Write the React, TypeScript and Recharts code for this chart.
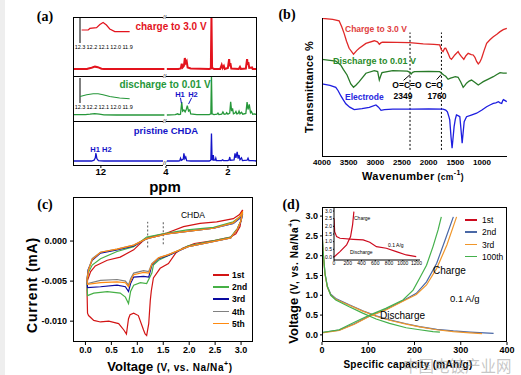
import React from 'react';
import { LineChart, Line, XAxis, YAxis, ReferenceLine } from 'recharts';

const SANS = '"Liberation Sans", Arial, Helvetica, sans-serif';
const SERIF = '"Liberation Serif", "Times New Roman", serif';
const CJK = '"Noto Sans CJK SC", sans-serif';

type Pt = [number, number];

// ---- (a) 1H NMR, [ppm, intensity] ----
const A_TICKS = [12, 4, 2];
const A_INSET_TICKS = [12.3, 12.2, 12.1, 12.0, 11.9];

const RED_LEFT: Pt[] = [[12.9, 0], [12.45, 0], [12.4, 0.01], [12.3, 0.025], [12.19, 0.045], [12.1, 0.035], [11.98, 0.005], [11.9, 0], [9.95, 0]];
const RED_RIGHT: Pt[] = [
  [3.97, 0], [3.6, 0], [3.52, 0.01], [3.49, 0.1], [3.46, 0.03], [3.42, 0.06], [3.39, 0.21], [3.36, 0.12], [3.33, 0.15], [3.3, 0.03],
  [3.2, 0.01], [2.6, 0], [2.55, 0.01], [2.53, 1], [2.51, 0.02], [2.45, 0], [2.25, 0], [2.2, 0.08], [2.17, 0.02], [2.13, 0.06],
  [2.1, 0], [2.0, 0.02], [1.96, 0.19], [1.94, 0.05], [1.92, 0.11], [1.89, 0.01], [1.65, 0], [1.61, 0.04], [1.58, 0], [1.42, 0.01],
  [1.38, 0.19], [1.36, 0.08], [1.34, 0.13], [1.31, 0.02], [1.22, 0.03], [1.2, 0], [1.06, 0],
];
const GREEN_LEFT: Pt[] = [[12.9, 0.01], [12.5, 0.01], [12.35, 0.02], [12.2, 0.035], [12.05, 0.02], [11.9, 0.005], [11.5, 0], [9.95, 0]];
const GREEN_RIGHT: Pt[] = [
  [3.97, 0], [3.7, 0.01], [3.62, 0.03], [3.58, 0.01], [3.53, 0.02], [3.49, 0.33], [3.46, 0.1], [3.42, 0.13], [3.38, 0.08], [3.34, 0.15],
  [3.31, 0.24], [3.27, 0.1], [3.23, 0.13], [3.2, 0.03], [3.0, 0.01], [2.6, 0.01], [2.55, 0.03], [2.53, 1], [2.51, 0.03], [2.45, 0.01],
  [2.35, 0.02], [2.32, 0.05], [2.29, 0.01], [2.2, 0.02], [2.16, 0.08], [2.12, 0.02], [2.06, 0.03], [2.04, 0.06], [2.0, 0.02], [1.94, 0.05],
  [1.91, 0.34], [1.88, 0.1], [1.85, 0.17], [1.82, 0.03], [1.77, 0.05], [1.74, 0.09], [1.71, 0.03], [1.67, 0.04], [1.64, 0.1], [1.61, 0.03],
  [1.56, 0.07], [1.52, 0.02], [1.42, 0.04], [1.38, 0.33], [1.35, 0.14], [1.31, 0.27], [1.27, 0.06], [1.24, 0.09], [1.2, 0.02], [1.13, 0.03], [1.06, 0],
];
const BLUE_LEFT: Pt[] = [[12.9, 0], [12.3, 0], [12.22, 0.02], [12.18, 0.08], [12.16, 0.2], [12.13, 0.06], [12.08, 0.01], [11.9, 0], [9.95, 0]];
const BLUE_RIGHT: Pt[] = [
  [3.97, 0], [3.6, 0], [3.55, 0.01], [3.53, 0.07], [3.5, 0.02], [3.44, 0.05], [3.42, 0.19], [3.39, 0.06], [3.36, 0.1], [3.33, 0.01],
  [3.2, 0], [2.6, 0], [2.55, 0.02], [2.53, 0.69], [2.51, 0.04], [2.49, 0.03], [2.47, 0.15], [2.45, 0.02], [2.41, 0.02], [2.39, 0.07],
  [2.37, 0.01], [2.2, 0.01], [2.17, 0.03], [2.14, 0.01], [2.0, 0.01], [1.96, 0.03], [1.94, 0.1], [1.92, 0.02], [1.8, 0.03], [1.77, 0.19],
  [1.74, 0.08], [1.7, 0.23], [1.67, 0.06], [1.64, 0.15], [1.61, 0.03], [1.56, 0.08], [1.53, 0.01], [1.38, 0.02], [1.35, 0.07], [1.32, 0.01],
  [1.2, 0.01], [1.06, 0],
];
const RED_INSET: Pt[] = [[12.286, 0.5], [12.231, 0.5], [12.217, 0.56], [12.161, 0.59], [12.133, 0.71], [12.106, 0.79], [12.078, 0.69], [12.05, 0.54], [12.008, 0.44], [11.883, 0.44]];
const GREEN_INSET: Pt[] = [[12.3, 0.26], [12.244, 0.33], [12.189, 0.37], [12.148, 0.37], [12.106, 0.33], [12.05, 0.26], [11.967, 0.2], [11.883, 0.17]];

// ---- (b) FTIR, [wavenumber, transmittance] ----
const B_TICKS = [4000, 3500, 3000, 2500, 2000, 1500, 1000];
const B_CHARGE: Pt[] = [
  [4000, 99.8], [3800, 99], [3679, 98.1], [3630, 94], [3585, 89.4], [3540, 84], [3491, 79.1], [3409, 75], [3350, 77.5], [3302, 79.1],
  [3176, 82.5], [3019, 84.3], [2960, 83.5], [2925, 81.9], [2890, 83], [2862, 83.4], [2600, 83.2], [2358, 83], [2100, 82.2], [1900, 81.8],
  [1792, 81.4], [1760, 78], [1730, 76.8], [1700, 79], [1679, 79.1], [1635, 75.6], [1600, 72.5], [1572, 71.5], [1540, 73], [1509, 74.5],
  [1447, 76.8], [1420, 75], [1384, 73.3], [1340, 71.5], [1300, 74], [1258, 75.6], [1200, 74.8], [1164, 74.5], [1132, 72.9], [1100, 70],
  [1069, 68.3], [1040, 69.5], [1006, 72.2], [960, 77.5], [912, 82.5], [850, 85], [787, 87.1], [720, 88.8], [660, 90.6], [600, 92], [534, 92.9],
];
const B_DISCHARGE: Pt[] = [
  [4000, 71.5], [3742, 70.3], [3650, 67.6], [3600, 64.5], [3530, 60.7], [3460, 54.5], [3409, 52.2], [3360, 53.8], [3302, 56.1], [3176, 61.9],
  [3019, 63.7], [2956, 63], [2925, 57.2], [2900, 60], [2875, 62.3], [2673, 63.7], [2400, 63.4], [2349, 62.5], [2327, 61.4], [2300, 62.5],
  [2264, 63], [2000, 63.2], [1792, 63], [1717, 60.7], [1680, 59.8], [1635, 57.7], [1590, 58.5], [1541, 59.1], [1500, 59.5], [1447, 59.1],
  [1400, 56], [1352, 52.2], [1320, 53.5], [1289, 55], [1240, 56.5], [1195, 57.2], [1130, 55.5], [1069, 53.8], [1020, 55], [975, 56.1],
  [880, 57.8], [787, 59.5], [720, 61], [660, 62.3], [600, 62], [534, 61.9],
];
const B_ELECTRODE: Pt[] = [
  [4000, 54.5], [3850, 53.5], [3742, 52.2], [3700, 50], [3648, 46.4], [3600, 43.5], [3553, 40.8], [3480, 38.5], [3396, 36.8], [3250, 37.5],
  [3113, 38.4], [2988, 40], [2940, 38.5], [2893, 36.3], [2830, 36.8], [2673, 37.1], [2300, 37.1], [2000, 37.2], [1730, 37.1], [1680, 36.5],
  [1648, 35.2], [1620, 32], [1604, 29.7], [1580, 18], [1560, 10.1], [1545, 16], [1522, 25], [1500, 30], [1478, 33.1], [1440, 32.5],
  [1415, 31.9], [1395, 24], [1371, 13.6], [1355, 20], [1333, 28.5], [1289, 31.9], [1200, 33], [1100, 34.3], [1000, 36.5], [912, 38.8],
  [850, 40], [787, 41.1], [740, 41.5], [692, 42.3], [660, 41.5], [629, 41.1], [610, 43], [597, 43.7], [565, 43], [534, 42.3],
];

// ---- (c) CV loops, [V, mA] : cathodic sweep 3.0 -> 0, then anodic back to 3.0 ----
const C_XTICKS = [0, 0.5, 1, 1.5, 2, 2.5, 3];
const C_YTICKS = [0, -0.005, -0.01];
const CV_1: Pt[] = [
  [3.03, 0.0039], [3.0, 0.0027], [2.98, 0.0018], [2.9, 0.0009], [2.8, 0.0005], [2.5, 0.0001], [2.1, -0.0003], [1.87, -0.0009], [1.74, -0.0015],
  [1.6, -0.0028], [1.44, -0.0034], [1.31, -0.0046], [1.27, -0.0062], [1.25, -0.0074], [1.22, -0.0103], [1.18, -0.0118], [1.15, -0.0116],
  [1.12, -0.0111], [1.02, -0.0093], [0.93, -0.009], [0.86, -0.0092], [0.83, -0.0097], [0.79, -0.0116], [0.74, -0.0111], [0.64, -0.0103],
  [0.45, -0.01], [0.29, -0.0101], [0.16, -0.0099], [0.06, -0.0093], [0.04, -0.009], [0.03, -0.0061], [0.04, -0.0049], [0.1, -0.0038],
  [0.19, -0.0031], [0.42, -0.0024], [0.67, -0.002], [0.93, -0.0011], [1.12, 0.0001], [1.25, 0.0005], [1.57, 0.001], [1.89, 0.0018],
  [2.21, 0.0022], [2.53, 0.0024], [2.85, 0.0028], [2.97, 0.0033], [3.03, 0.0039],
];
const CV_2: Pt[] = [
  [3.03, 0.0036], [3.0, 0.0026], [2.93, 0.0016], [2.8, 0.0005], [2.5, 0.0001], [1.98, -0.0006], [1.6, -0.0018], [1.41, -0.0024], [1.31, -0.003],
  [1.28, -0.004], [1.18, -0.0053], [1.06, -0.0052], [0.93, -0.0055], [0.87, -0.0063], [0.83, -0.0078], [0.77, -0.007], [0.67, -0.0065],
  [0.42, -0.0063], [0.16, -0.0065], [0.04, -0.0068], [0.03, -0.0053], [0.05, -0.004], [0.13, -0.003], [0.29, -0.0022], [0.61, -0.0013],
  [0.93, -0.0007], [1.18, 0.0005], [1.57, 0.001], [1.96, 0.0014], [2.47, 0.0017], [2.85, 0.0024], [2.97, 0.003], [3.03, 0.0036],
];
const CV_3: Pt[] = [
  [3.03, 0.0034], [3.0, 0.0025], [2.93, 0.0015], [2.8, 0.0004], [2.5, 0], [1.98, -0.0007], [1.6, -0.0018], [1.41, -0.0022], [1.28, -0.003],
  [1.22, -0.0045], [1.12, -0.0044], [0.93, -0.0045], [0.87, -0.0053], [0.83, -0.0063], [0.77, -0.0057], [0.61, -0.0055], [0.29, -0.0057],
  [0.04, -0.0058], [0.03, -0.0049], [0.05, -0.0036], [0.13, -0.0024], [0.29, -0.0015], [0.61, -0.0011], [0.93, -0.0006], [1.18, 0.0003],
  [1.57, 0.0009], [1.96, 0.0012], [2.47, 0.0016], [2.85, 0.0022], [2.97, 0.0028], [3.03, 0.0034],
];
const CV_4: Pt[] = [
  [3.03, 0.0035], [3.0, 0.0025], [2.93, 0.0015], [2.8, 0.0004], [2.5, 0], [1.98, -0.0007], [1.6, -0.0017], [1.41, -0.0021], [1.28, -0.0028],
  [1.22, -0.0038], [1.12, -0.0037], [0.93, -0.004], [0.87, -0.0047], [0.83, -0.0055], [0.77, -0.005], [0.61, -0.0048], [0.29, -0.0049],
  [0.04, -0.0053], [0.03, -0.0047], [0.06, -0.0035], [0.13, -0.0022], [0.29, -0.0014], [0.61, -0.001], [0.93, -0.0005], [1.18, 0.0003],
  [1.57, 0.0009], [1.96, 0.0012], [2.47, 0.0016], [2.85, 0.0022], [2.97, 0.0029], [3.03, 0.0035],
];
const CV_5: Pt[] = [
  [3.03, 0.0037], [3.0, 0.0026], [2.93, 0.0015], [2.8, 0.0004], [2.5, 0], [1.98, -0.0007], [1.6, -0.0017], [1.41, -0.0021], [1.28, -0.0029],
  [1.22, -0.004], [1.12, -0.0039], [0.93, -0.0042], [0.87, -0.005], [0.83, -0.0057], [0.77, -0.0052], [0.61, -0.0051], [0.29, -0.0052],
  [0.04, -0.0054], [0.03, -0.0048], [0.06, -0.0036], [0.13, -0.0023], [0.29, -0.0014], [0.61, -0.001], [0.93, -0.0005], [1.18, 0.0003],
  [1.57, 0.0009], [1.96, 0.0012], [2.47, 0.0016], [2.85, 0.0023], [2.97, 0.003], [3.03, 0.0037],
];
const CV_SERIES = [
  { name: '1st', color: '#d21414', data: CV_1 },
  { name: '2nd', color: '#46b046', data: CV_2 },
  { name: '3rd', color: '#0a0aa0', data: CV_3 },
  { name: '4th', color: '#808080', data: CV_4 },
  { name: '5th', color: '#ff8a10', data: CV_5 },
];

// ---- (d) charge/discharge, [mAh/g, V] ----
const D_XTICKS = [0, 100, 200, 300, 400];
const D_YTICKS = [0, 0.5, 1, 1.5, 2, 2.5, 3];
const DIS_2: Pt[] = [[0, 2.65], [2, 2.14], [6.5, 1.55], [11.6, 1.22], [18.9, 1.03], [29.8, 0.92], [58.9, 0.76], [88, 0.61], [117, 0.48], [146, 0.38], [182, 0.28], [211, 0.21], [248, 0.14], [284, 0.1], [320, 0.07], [371, 0.04]];
const DIS_3: Pt[] = [[0, 2.65], [2, 2.12], [6.5, 1.52], [11.6, 1.2], [18.9, 1.01], [29.8, 0.9], [58.9, 0.75], [88, 0.6], [117, 0.47], [146, 0.37], [182, 0.27], [211, 0.2], [248, 0.13], [284, 0.08], [320, 0.05], [346, 0.03]];
const DIS_100: Pt[] = [[0, 2.65], [2.2, 2.14], [6.5, 1.55], [11.6, 1.22], [18.9, 1.0], [29.8, 0.88], [58.9, 0.71], [88, 0.55], [117, 0.4], [146, 0.29], [182, 0.18], [211, 0.13], [240, 0.08], [255, 0.07]];
const CH_2: Pt[] = [[0, 0.06], [37, 0.12], [70, 0.28], [103, 0.48], [138, 0.64], [175, 0.86], [204, 1.05], [226, 1.34], [248, 1.81], [266, 2.39], [284, 2.98]];
const CH_3: Pt[] = [[0, 0.05], [37, 0.11], [70, 0.27], [103, 0.47], [138, 0.63], [175, 0.85], [204, 1.02], [226, 1.26], [248, 1.68], [270, 2.27], [291, 2.98]];
const CH_100: Pt[] = [[0, 0.06], [37, 0.13], [70, 0.32], [103, 0.5], [138, 0.67], [175, 0.88], [197, 1.13], [211, 1.43], [226, 1.76], [240, 2.23], [251, 2.65], [258, 2.98]];
const INSET_DIS: Pt[] = [[0, 2.52], [9.6, 1.65], [38, 1.33], [87, 1.22], [280, 1.15], [424, 1.11], [520, 0.96], [617, 0.67], [761, 0.57], [906, 0.35], [1050, 0.13], [1195, 0.02]];
const INSET_CH: Pt[] = [[0, 0], [87, 0.35], [183, 0.78], [241, 1.33], [270, 2.09], [289, 2.96]];
const INSET_XTICKS = [0, 200, 400, 600, 800, 1000, 1200];
const D_SERIES = [
  { name: '1st', color: '#cc0a1e' },
  { name: '2nd', color: '#4a68a6' },
  { name: '3rd', color: '#f0962a' },
  { name: '100th', color: '#44b04c' },
];

// ---------- helpers ----------
const xy = (pts: Pt[]) => pts.map(([x, y]) => ({ x, y }));
// ppm axis with a break between 10 and 4
const toU = (ppm: number) => (ppm > 6 ? 12.9 - ppm : 7 - ppm);
const nmr = (pts: Pt[]) => pts.map(([p, v]) => ({ x: toU(p), y: v }));
const A_TICK_U = A_TICKS.map(toU);
const U_MAX = toU(1.06);

const tk = (size: number, bold = true) => ({ fontSize: size, fontWeight: bold ? 700 : 400, fill: '#000', fontFamily: SANS });

const PAD = 14;
function Box({ x, y, w, h, yw = 0, xh = 0, children }: { x: number; y: number; w: number; h: number; yw?: number; xh?: number; children: React.ReactNode }) {
  return (
    <div style={{ position: 'absolute', left: x - yw - PAD, top: y - PAD }}>
      <LineChart width={w + yw + 2 * PAD} height={h + xh + 2 * PAD} margin={{ top: PAD, right: PAD, bottom: PAD, left: PAD }}>
        {children}
      </LineChart>
    </div>
  );
}

function Frame({ x0, y0, x1, y1, open = false }: { x0: number; y0: number; x1: number; y1: number; open?: boolean }) {
  return (
    <div
      style={{
        position: 'absolute', left: x0, top: y0, width: x1 - x0, height: y1 - y0, boxSizing: 'border-box',
        borderLeft: '1px solid #000', borderBottom: '1px solid #000',
        borderTop: open ? 'none' : '1px solid #000', borderRight: open ? 'none' : '1px solid #000',
      }}
    />
  );
}

type TxtProps = {
  x: number; y: number; size?: number; color?: string; bold?: boolean; align?: 'left' | 'center';
  rotate?: boolean; family?: string; spacing?: number; children: React.ReactNode;
};
function Txt({ x, y, size = 10, color = '#000', bold = true, align = 'center', rotate = false, family = SANS, spacing = 0, children }: TxtProps) {
  const tx = align === 'left' ? '0' : '-50%';
  return (
    <div
      style={{
        position: 'absolute', left: x, top: y, transform: `translate(${tx},-50%)${rotate ? ' rotate(-90deg)' : ''}`,
        fontSize: size, color, fontWeight: bold ? 700 : 400, fontFamily: family, whiteSpace: 'nowrap', lineHeight: 1, letterSpacing: spacing,
      }}
    >
      {children}
    </div>
  );
}

const Break = ({ x, y }: { x: number; y: number }) => (
  <div style={{ position: 'absolute', left: x - 3, top: y - 3, fontSize: 6, lineHeight: '6px', background: '#fff', fontFamily: SANS, color: '#000' }}>//</div>
);

const Sup = ({ children }: { children: React.ReactNode }) => (
  <span style={{ fontSize: 7, position: 'relative', top: -5 }}>{children}</span>
);

const VoltTitle = () => (
  <>
    <span style={{ fontSize: 13 }}>Voltage</span>
    <span style={{ fontSize: 10, letterSpacing: 0.6 }}> (V, vs. Na/Na<Sup>+</Sup>)</span>
  </>
);

// ---------- panel (a) strips ----------
function NmrStrip({ top, height, yMin, left, right, color, width, axis = false, children }: {
  top: number; height: number; yMin: number; left: Pt[]; right: Pt[]; color: string; width: number; axis?: boolean; children?: React.ReactNode;
}) {
  return (
    <Box x={73} y={top} w={184} h={height} xh={axis ? 18 : 0}>
      <XAxis
        type="number" dataKey="x" domain={[0, U_MAX]} allowDataOverflow hide={!axis} height={18}
        ticks={A_TICK_U} interval={0} tickFormatter={(u: number) => String(A_TICKS[A_TICK_U.indexOf(u)])}
        axisLine={false} stroke="#000" tickSize={2} tickMargin={0} tick={tk(9.5)}
      />
      <YAxis type="number" dataKey="y" domain={[yMin, 1]} allowDataOverflow hide />
      <Line data={nmr(left)} dataKey="y" stroke={color} strokeWidth={width} dot={false} isAnimationActive={false} />
      <Line data={nmr(right)} dataKey="y" stroke={color} strokeWidth={width} dot={false} isAnimationActive={false} />
      {children}
    </Box>
  );
}

function NmrInset({ top, height, data, color }: { top: number; height: number; data: Pt[]; color: string }) {
  return (
    <Box x={80} y={top} w={50} h={height} xh={8}>
      <XAxis
        type="number" dataKey="x" domain={[11.88, 12.3]} reversed allowDataOverflow height={8}
        ticks={A_INSET_TICKS} interval={0} tickFormatter={(v: number) => v.toFixed(1)}
        axisLine={false} tickLine={false} tickSize={0} tickMargin={2} tick={tk(5.5, false)}
      />
      <YAxis type="number" dataKey="y" domain={[0, 1]} allowDataOverflow hide />
      <ReferenceLine x={12.3} stroke="#000" strokeWidth={1} />
      <Line data={xy(data)} dataKey="y" stroke={color} strokeWidth={1.2} dot={false} isAnimationActive={false} />
    </Box>
  );
}

export default function App() {
  const red = '#e3131d';
  const green = '#26973a';
  const blue = '#1414c8';
  return (
    <div style={{ position: 'absolute', left: 0, top: 0, width: 521, height: 375, background: '#fff', overflow: 'hidden', fontFamily: SANS }}>
      <div style={{ position: 'absolute', left: 0, top: 0, width: 5, height: 375, background: '#eeeeee' }} />

      {/* (a) */}
      <NmrStrip top={17} height={59} yMin={-0.135} left={RED_LEFT} right={RED_RIGHT} color={red} width={2} />
      <NmrStrip top={76} height={45} yMin={-0.154} left={GREEN_LEFT} right={GREEN_RIGHT} color={green} width={1.3}>
        <ReferenceLine segment={[{ x: toU(3.53), y: 0.44 }, { x: toU(3.5), y: 0.3 }]} stroke={blue} strokeWidth={1} />
        <ReferenceLine segment={[{ x: toU(3.17), y: 0.44 }, { x: toU(3.27), y: 0.28 }]} stroke={blue} strokeWidth={1} />
      </NmrStrip>
      <NmrStrip top={121} height={45} yMin={-0.125} left={BLUE_LEFT} right={BLUE_RIGHT} color={blue} width={1.3} axis />
      <NmrInset top={17} height={26} data={RED_INSET} color={red} />
      <NmrInset top={78} height={25} data={GREEN_INSET} color={green} />
      <Frame x0={73} y0={17} x1={257} y1={166} />
      <div style={{ position: 'absolute', left: 73, top: 76, width: 184, height: 1, background: '#000' }} />
      <div style={{ position: 'absolute', left: 73, top: 121, width: 184, height: 1, background: '#000' }} />
      <Break x={166} y={17} />
      <Break x={166} y={76} />
      <Break x={166} y={121} />
      <Break x={166} y={163} />
      <Txt x={171} y={27} color={red} size={10}>charge to 3.0 V</Txt>
      <Txt x={165} y={84.5} color={green} size={10}>discharge to 0.01 V</Txt>
      <Txt x={166} y={131} color={blue} size={9.5}>pristine CHDA</Txt>
      <Txt x={180} y={94.5} color={blue} size={7.5}>H1</Txt>
      <Txt x={193} y={94.5} color={blue} size={7.5}>H2</Txt>
      <Txt x={101} y={150} color={blue} size={7.5}>H1 H2</Txt>
      <Txt x={165} y={186} size={15}>ppm</Txt>
      <Txt x={45} y={17} size={14} family={SERIF}>(a)</Txt>

      {/* (b) */}
      <Box x={322} y={18} w={185} h={139} xh={12}>
        <XAxis
          type="number" dataKey="x" domain={[530, 4000]} reversed allowDataOverflow height={12}
          ticks={B_TICKS} interval={0} axisLine={false} tickLine={false} tickSize={0} tickMargin={2} tick={tk(8)}
        />
        <YAxis type="number" dataKey="y" domain={[4.1, 100]} allowDataOverflow hide />
        <ReferenceLine segment={[{ x: 2349, y: 9 }, { x: 2349, y: 90 }]} stroke="#000" strokeDasharray="2 2" />
        <ReferenceLine segment={[{ x: 1760, y: 9 }, { x: 1760, y: 90 }]} stroke="#000" strokeDasharray="2 2" />
        <ReferenceLine segment={[{ x: 2470, y: 57 }, { x: 2345, y: 61 }]} stroke="#000" />
        <ReferenceLine segment={[{ x: 1850, y: 57.5 }, { x: 1765, y: 61 }]} stroke="#000" />
        <Line data={xy(B_CHARGE)} dataKey="y" stroke="#e02828" strokeWidth={1.3} dot={false} isAnimationActive={false} />
        <Line data={xy(B_DISCHARGE)} dataKey="y" stroke="#287a28" strokeWidth={1.3} dot={false} isAnimationActive={false} />
        <Line data={xy(B_ELECTRODE)} dataKey="y" stroke="#1e1ee0" strokeWidth={1.3} dot={false} isAnimationActive={false} />
      </Box>
      <Frame x0={322} y0={18} x1={507} y1={157} open />
      <Txt x={345} y={29} color="#e04040" size={8.5} align="left">Charge to 3.0 V</Txt>
      <Txt x={333} y={61} color="#2a8a2a" size={9} align="left">Discharge to 0.01 V</Txt>
      <Txt x={345} y={97} color="#2828e0" size={8.5} align="left">Electrode</Txt>
      <Txt x={407} y={85} size={8.5}>O=C=O</Txt>
      <Txt x={434} y={85} size={8.5}>C=O</Txt>
      <Txt x={403} y={96} size={8.5}>2349</Txt>
      <Txt x={437} y={96} size={8.5}>1760</Txt>
      <Txt x={309} y={87} size={11} rotate spacing={0.3}>Transmittance %</Txt>
      <Txt x={413} y={176} size={11} spacing={0.4}>
        Wavenumber<span style={{ fontSize: 8.5, letterSpacing: 0.4 }}> (cm<Sup>-1</Sup>)</span>
      </Txt>
      <Txt x={287} y={15} size={14} family={SERIF}>(b)</Txt>

      {/* (c) */}
      <Box x={73} y={197} w={180} h={145} yw={50} xh={20}>
        <XAxis
          type="number" dataKey="x" domain={[-0.24, 3.23]} allowDataOverflow height={20}
          ticks={C_XTICKS} interval={0} tickFormatter={(v: number) => v.toFixed(1)}
          axisLine={false} stroke="#000" tickSize={3} tickMargin={2} tick={tk(9)}
        />
        <YAxis
          type="number" dataKey="y" domain={[-0.0126, 0.0055]} allowDataOverflow width={50}
          ticks={C_YTICKS} interval={0} tickFormatter={(v: number) => v.toFixed(3)}
          axisLine={false} stroke="#000" tickSize={3} tickMargin={3} tick={tk(9)}
        />
        <ReferenceLine segment={[{ x: 1.2, y: -0.0008 }, { x: 1.2, y: 0.0024 }]} stroke="#555" strokeDasharray="2 2" />
        <ReferenceLine segment={[{ x: 1.5, y: -0.0004 }, { x: 1.5, y: 0.0024 }]} stroke="#555" strokeDasharray="2 2" />
        {CV_SERIES.map((s) => (
          <Line key={s.name} data={xy(s.data)} dataKey="y" stroke={s.color} strokeWidth={1.2} dot={false} isAnimationActive={false} />
        ))}
      </Box>
      <Frame x0={73} y0={197} x1={253} y1={342} />
      {CV_SERIES.map((s, i) => (
        <React.Fragment key={s.name}>
          <div style={{ position: 'absolute', left: 213, top: 274 + i * 12.2, width: 16, height: 1.5, background: s.color }} />
          <Txt x={232} y={275 + i * 12.2} size={8.5} align="left">{s.name}</Txt>
        </React.Fragment>
      ))}
      <Txt x={193} y={215} size={8.5} bold={false}>CHDA</Txt>
      <Txt x={32} y={285} size={14} rotate spacing={0.8}>Current (mA)</Txt>
      <Txt x={170} y={366}><VoltTitle /></Txt>
      <Txt x={45} y={205} size={14} family={SERIF}>(c)</Txt>

      {/* (d) */}
      <Box x={322} y={207} w={185} h={135} yw={40} xh={20}>
        <XAxis
          type="number" dataKey="x" domain={[0, 400]} allowDataOverflow height={20}
          ticks={D_XTICKS} interval={0} axisLine={false} stroke="#000" tickSize={3} tickMargin={2} tick={tk(9)}
        />
        <YAxis
          type="number" dataKey="y" domain={[-0.18, 3.23]} allowDataOverflow width={40}
          ticks={D_YTICKS} interval={0} tickFormatter={(v: number) => v.toFixed(1)}
          axisLine={false} stroke="#000" tickSize={2} tickMargin={2} tick={tk(9)}
        />
        <Line data={xy(DIS_2)} dataKey="y" stroke={D_SERIES[1].color} strokeWidth={1.2} dot={false} isAnimationActive={false} />
        <Line data={xy(CH_2)} dataKey="y" stroke={D_SERIES[1].color} strokeWidth={1.2} dot={false} isAnimationActive={false} />
        <Line data={xy(DIS_3)} dataKey="y" stroke={D_SERIES[2].color} strokeWidth={1.2} dot={false} isAnimationActive={false} />
        <Line data={xy(CH_3)} dataKey="y" stroke={D_SERIES[2].color} strokeWidth={1.2} dot={false} isAnimationActive={false} />
        <Line data={xy(DIS_100)} dataKey="y" stroke={D_SERIES[3].color} strokeWidth={1.2} dot={false} isAnimationActive={false} />
        <Line data={xy(CH_100)} dataKey="y" stroke={D_SERIES[3].color} strokeWidth={1.2} dot={false} isAnimationActive={false} />
      </Box>
      <Frame x0={322} y0={207} x1={507} y1={342} />
      <Box x={334} y={208} w={86} h={52} yw={12} xh={8}>
        <XAxis
          type="number" dataKey="x" domain={[0, 1250]} allowDataOverflow height={8}
          ticks={INSET_XTICKS} interval={0} stroke="#000" tickSize={1} tickMargin={0} tick={tk(5, false)}
        />
        <YAxis
          type="number" dataKey="y" domain={[-0.2, 3.2]} allowDataOverflow width={12}
          ticks={D_YTICKS} interval={0} tickFormatter={(v: number) => v.toFixed(1)}
          stroke="#000" tickSize={1} tickMargin={1} tick={tk(5, false)}
        />
        <Line data={xy(INSET_DIS)} dataKey="y" stroke={D_SERIES[0].color} strokeWidth={1.2} dot={false} isAnimationActive={false} />
        <Line data={xy(INSET_CH)} dataKey="y" stroke={D_SERIES[0].color} strokeWidth={1.2} dot={false} isAnimationActive={false} />
      </Box>
      <Txt x={354} y={218} size={5} bold={false} align="left">Charge</Txt>
      <Txt x={350} y={252} size={5} bold={false} align="left">Discharge</Txt>
      <Txt x={388} y={245} size={5} bold={false} align="left">0.1 A/g</Txt>
      {D_SERIES.map((s, i) => (
        <React.Fragment key={s.name}>
          <div style={{ position: 'absolute', left: 465, top: 219 + i * 12.3, width: 12, height: 1.5, background: s.color }} />
          <Txt x={482} y={220 + i * 12.3} size={8.5} bold={false} align="left">{s.name}</Txt>
        </React.Fragment>
      ))}
      <Txt x={433} y={271} size={10} bold={false} align="left">Charge</Txt>
      <Txt x={450} y={299} size={9.5} bold={false} align="left">0.1 A/g</Txt>
      <Txt x={380} y={316} size={10} bold={false} align="left">Discharge</Txt>
      <Txt x={293} y={281} rotate><VoltTitle /></Txt>
      <Txt x={408} y={365} size={10} spacing={0.3}>Specific capacity (mAh/g)</Txt>
      <Txt x={291} y={205} size={14} family={SERIF}>(d)</Txt>

      <Txt x={403} y={366} size={15.5} bold={false} align="left" family={CJK} color="rgba(150,150,150,0.55)">中国电镀产业网</Txt>
    </div>
  );
}
